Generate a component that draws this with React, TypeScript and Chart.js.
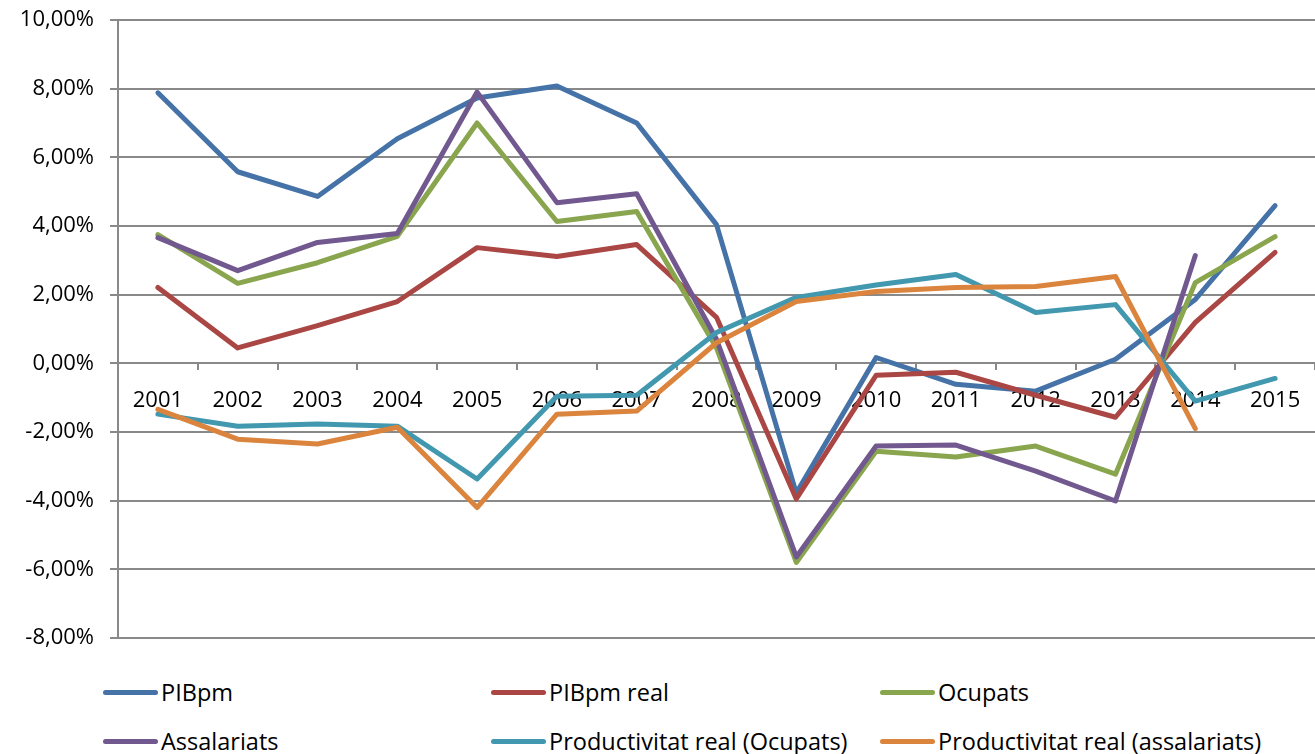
import React, { useEffect, useRef } from "react";
import { Chart, registerables } from "chart.js";

Chart.register(...registerables);

const years = ["2001","2002","2003","2004","2005","2006","2007","2008","2009","2010","2011","2012","2013","2014","2015"];
const pibpm = [7.88, 5.58, 4.86, 6.54, 7.73, 8.08, 7.0, 4.04, -3.78, 0.17, -0.61, -0.81, 0.12, 1.86, 4.59];
const pibpmReal = [2.21, 0.45, 1.1, 1.8, 3.37, 3.11, 3.46, 1.34, -3.95, -0.35, -0.26, -0.93, -1.57, 1.19, 3.23];
const ocupats = [3.75, 2.33, 2.93, 3.7, 7.0, 4.13, 4.42, 0.45, -5.8, -2.56, -2.73, -2.41, -3.23, 2.35, 3.69];
const assalariats = [3.66, 2.7, 3.52, 3.78, 7.9, 4.68, 4.94, 0.7, -5.64, -2.41, -2.38, -3.14, -4.01, 3.14, null];
const prodOcupats = [-1.48, -1.83, -1.77, -1.83, -3.37, -0.96, -0.93, 0.9, 1.92, 2.28, 2.59, 1.48, 1.71, -1.1, -0.44];
const prodAssalariats = [-1.34, -2.21, -2.35, -1.86, -4.2, -1.48, -1.39, 0.6, 1.8, 2.09, 2.21, 2.24, 2.53, -1.9, null];

const seriesNames = ["PIBpm", "PIBpm real", "Ocupats", "Assalariats", "Productivitat real (Ocupats)", "Productivitat real (assalariats)"];
const seriesColors = ["#4572A7", "#AA4643", "#89A54E", "#71588F", "#4198AF", "#DB843D"];
const seriesData = [pibpm, pibpmReal, ocupats, assalariats, prodOcupats, prodAssalariats];

const FONT = "'Open Sans', sans-serif";
const GRID = "#898989";

export default function App() {
  const ref = useRef<HTMLCanvasElement>(null);

  useEffect(() => {
    document.body.style.margin = "0";
    const ctx = ref.current!;
    const chart = new Chart(ctx, {
      type: "line",
      data: {
        labels: years,
        datasets: seriesData.map((d, i) => ({
          label: seriesNames[i],
          data: d,
          borderColor: seriesColors[i],
          backgroundColor: seriesColors[i],
          borderWidth: 5,
          pointRadius: 0,
          tension: 0,
          borderJoinStyle: "round" as const,
          borderCapStyle: "round" as const,
          order: 6 - i,
          spanGaps: false,
        })),
      },
      options: {
        animation: false,
        responsive: true,
        maintainAspectRatio: false,
        layout: { padding: { top: 20, bottom: 22, left: 0, right: 0 } },
        plugins: { legend: { display: false }, tooltip: { enabled: false } },
        scales: {
          x: {
            position: { y: 0 } as any,
            offset: true,
            afterFit: (s: any) => { s.paddingLeft = 0; s.paddingRight = 0; },
            grid: { offset: true, drawOnChartArea: false, tickLength: 6, color: GRID, lineWidth: 2 },
            border: { display: true, color: GRID, width: 2 },
            ticks: { color: "#000", font: { family: FONT, size: 22 }, padding: 18, maxRotation: 0, autoSkip: false },
          },
          y: {
            min: -8,
            max: 10,
            afterFit: (s: any) => { s.width = 118; s.paddingTop = 0; s.paddingBottom = 0; },
            grid: { color: GRID, lineWidth: 2, tickLength: 8 },
            border: { display: true, color: GRID, width: 2 },
            ticks: {
              stepSize: 2,
              color: "#000",
              font: { family: FONT, size: 22 },
              padding: 16,
              callback: (v: any) => Number(v).toFixed(2).replace(".", ",") + "%",
            },
          },
        },
      },
    });
    return () => chart.destroy();
  }, []);

  const legendCols = [103, 491, 880];
  const legendRows = [692, 741];

  return (
    <div style={{ position: "relative", width: 1315, height: 754, overflow: "hidden", background: "#fff" }}>
      <div style={{ position: "absolute", left: 0, top: 0, width: 1315, height: 660 }}>
        <canvas ref={ref} />
      </div>
      {seriesNames.map((name, i) => {
        const col = i % 3;
        const row = Math.floor(i / 3);
        return (
          <div
            key={name}
            style={{
              position: "absolute",
              left: legendCols[col],
              top: legendRows[row] - 16,
              height: 32,
              display: "flex",
              alignItems: "center",
              fontFamily: FONT,
              fontSize: 23.5,
              color: "#000",
              whiteSpace: "nowrap",
            }}
          >
            <span style={{ display: "inline-block", width: 55, height: 5, borderRadius: 3, background: seriesColors[i], marginRight: 3 }} />
            <span>{name}</span>
          </div>
        );
      })}
    </div>
  );
}
